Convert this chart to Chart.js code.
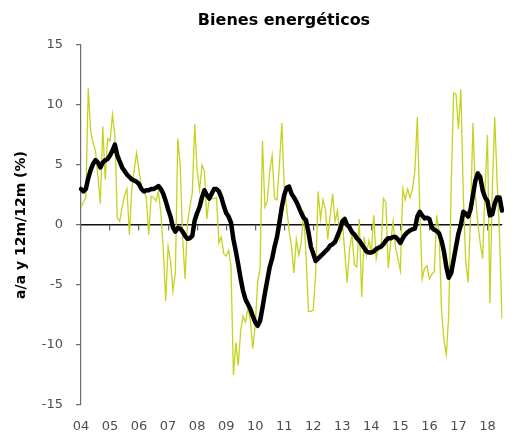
<!DOCTYPE html>
<html>
<head>
<meta charset="utf-8">
<script src="https://cdn.jsdelivr.net/npm/chart.js@4.4.1/dist/chart.umd.min.js"></script>
<style>
html,body{margin:0;padding:0;background:#ffffff;}
#wrap{width:516px;height:437px;}
</style>
</head>
<body>
<div id="wrap"><canvas id="c" width="516" height="437"></canvas></div>
<script>
const chartTitle = 'Bienes energéticos';
const yAxisTitle = 'a/a y 12m/12m (%)';
const yearLabels = ['04','05','06','07','08','09','10','11','12','13','14','15','16','17','18'];
const monthNames = ['ene','feb','mar','abr','may','jun','jul','ago','sep','oct','nov','dic'];
const monthLabels = yearLabels.flatMap(y => monthNames.map(m => m + '-' + y)).slice(0, 175);

// a/a (monthly year-on-year), thin yellow-green line
const yoyMonthly = [
  1.5, 1.9, 2.3, 11.4, 7.8, 6.8, 6.2, 4.0, 1.8, 8.2, 3.8, 7.2,
  7.0, 9.2, 7.5, 0.6, 0.3, 1.5, 2.5, 3.0, -0.8, 3.0, 4.6, 6.0,
  4.5, 3.2, 2.8, 2.3, -0.8, 2.4, 2.3, 2.0, 2.8, 1.0, -2.0, -6.3,
  -1.8, -3.0, -5.5, -4.0, 7.2, 5.0, -1.0, -4.5, 0.2, 1.5, 2.7, 8.4,
  4.5, 2.9, 5.0, 4.5, 0.5, 2.3, 2.2, 2.2, 2.3, -1.5, -1.0, -2.4,
  -2.6, -2.1, -3.5, -12.5, -9.8, -11.7, -8.8, -7.6, -8.1, -6.9, -8.0, -10.3,
  -8.4, -4.8, -3.6, 7.0, 1.5, 2.0, 4.5, 5.8, 2.2, 2.1, 5.0, 8.5,
  3.2, 1.5, -0.5, -1.8, -4.0, -1.2, -2.5, -1.5, 1.2, -2.5, -7.2, -7.2,
  -7.1, -4.0, 2.8, 0.5, 2.1, 1.3, -1.2, 0.8, 2.6, 0.3, 1.2, -1.1,
  0.3, -2.2, -4.8, -2.0, -0.8, -3.3, -3.5, 0.5, -6.0, -1.0, -2.5, -1.3,
  -2.2, 0.8, -2.8, -1.8, -2.0, 2.2, 1.9, -3.6, -1.4, 0.3, -1.9, -2.8,
  -3.8, 3.0, 2.1, 3.0, 2.3, 3.0, 4.5, 9.0, 1.5, -4.5, -3.6, -3.4,
  -4.5, -4.1, -3.9, 0.8, -0.6, -7.0, -9.6, -10.8, -7.4, 3.2, 11.0, 10.9,
  8.0, 11.3, 2.5, -3.0, -4.8, 0.8, 8.5, 2.5, 0.2, -1.5, -2.8, 3.0,
  7.5, -6.5, 3.0, 9.0, 3.5, -1.0, -7.8
];

// 12m/12m (rolling twelve-month average), thick black line
const rolling12m = [
  3.0, 2.8, 3.0, 3.9, 4.6, 5.1, 5.4, 5.2, 4.8, 5.2, 5.4, 5.5,
  5.8, 6.2, 6.7, 5.8, 5.3, 4.8, 4.5, 4.2, 4.0, 3.8, 3.7, 3.6,
  3.4, 3.0, 2.8, 2.9, 2.9, 3.0, 3.0, 3.1, 3.25, 3.0, 2.6, 2.0,
  1.3, 0.7, -0.2, -0.55, -0.25, -0.3, -0.55, -0.9, -1.15, -1.1, -0.9, 0.4,
  1.0, 1.5, 2.3, 2.9, 2.5, 2.2, 2.6, 3.0, 3.0, 2.8, 2.3, 1.6,
  1.0, 0.7, 0.2, -1.2, -2.2, -3.3, -4.5, -5.5, -6.2, -6.6, -7.0, -7.6,
  -8.1, -8.4, -8.0, -6.9, -5.7, -4.6, -3.5, -2.8, -1.8, -1.0, 0.2, 1.5,
  2.5, 3.1, 3.2, 2.6, 2.3, 1.95, 1.5, 1.0, 0.6, 0.4, -0.6, -1.8,
  -2.4, -3.0, -2.8, -2.6, -2.4, -2.2, -2.0, -1.7, -1.6, -1.4, -0.9, -0.4,
  0.3, 0.5, 0.0, -0.2, -0.6, -0.8, -1.1, -1.3, -1.6, -1.9, -2.2, -2.3,
  -2.3, -2.2, -2.0, -1.9, -1.8, -1.6, -1.3, -1.1, -1.1, -1.0, -1.0, -1.2,
  -1.5, -1.1, -0.8, -0.6, -0.45, -0.35, -0.3, 0.7, 1.1, 0.8, 0.55, 0.6,
  0.5, -0.2, -0.4, -0.5, -0.7, -1.3, -2.2, -3.5, -4.4, -4.0, -2.9, -1.8,
  -0.7, 0.0, 1.1, 0.95, 0.7, 1.3, 2.5, 3.7, 4.3, 4.0, 2.9, 2.3,
  2.0, 0.8, 0.9, 1.8, 2.3, 2.3, 1.2
];

const FONT = '"DejaVu Sans", Verdana, sans-serif';

const titlePlugin = {
  id: 'chartTitle',
  afterDraw(chart) {
    const ctx = chart.ctx;
    ctx.save();
    ctx.font = 'bold 16px ' + FONT;
    ctx.fillStyle = '#000000';
    ctx.textAlign = 'center';
    ctx.textBaseline = 'middle';
    ctx.fillText(chartTitle, 284, 21);
    ctx.restore();
  }
};

new Chart(document.getElementById('c'), {
  type: 'line',
  data: {
    labels: monthLabels,
    datasets: [
      { label: '12m/12m', data: rolling12m, xAxisID: 'x', borderColor: '#000000', borderWidth: 4.5, pointRadius: 0, tension: 0, borderJoinStyle: 'round', borderCapStyle: 'round', fill: false },
      { label: 'a/a', data: yoyMonthly, xAxisID: 'x', borderColor: '#c6d21f', borderWidth: 1.3, pointRadius: 0, tension: 0, fill: false }
    ]
  },
  options: {
    responsive: false,
    devicePixelRatio: 1,
    animation: false,
    layout: { padding: { top: 45, left: 0, right: 0, bottom: 0 } },
    plugins: { legend: { display: false }, tooltip: { enabled: false }, title: { display: false } },
    scales: {
      x: {
        type: 'category',
        position: { y: 0 },
        ticks: { display: false, autoSkip: false },
        grid: {
          display: true, drawOnChartArea: false, drawTicks: true, tickLength: 5,
          lineWidth: 1.2,
          color: c => (c.index % 12 === 0 ? '#666666' : 'rgba(0,0,0,0)')
        },
        border: { display: true, color: '#111111', width: 1.5 }
      },
      xb: {
        type: 'category',
        position: 'bottom',
        grid: { display: false, drawTicks: false },
        border: { display: false },
        ticks: {
          autoSkip: false, maxRotation: 0, minRotation: 0, padding: 14, color: '#4d4d4d',
          font: { family: FONT, size: 13 },
          callback: (v, i) => (i % 12 === 0 ? yearLabels[i / 12] : '')
        },
        afterFit(scale) { scale.height = 32; }
      },
      y: {
        min: -15, max: 15,
        ticks: { stepSize: 5, color: '#4d4d4d', font: { family: FONT, size: 13 }, padding: 13 },
        grid: {
          display: true, drawOnChartArea: false, drawTicks: true, tickLength: 5,
          lineWidth: 1.2, color: '#6e6e6e'
        },
        border: { display: true, color: '#6e6e6e', width: 1.2 },
        title: { display: true, text: yAxisTitle, color: '#000000', font: { family: FONT, size: 14, weight: 'bold' }, padding: { top: 13, bottom: 0 } },
        afterFit(scale) { scale.width = 81; }
      }
    }
  },
  plugins: [titlePlugin]
});
</script>
</body>
</html>
